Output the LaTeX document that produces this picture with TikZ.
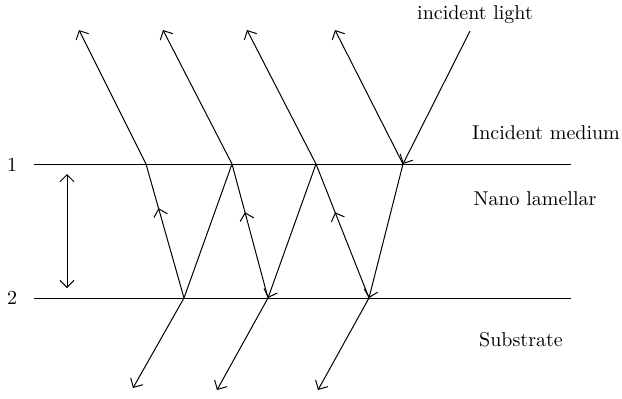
\documentclass[tikz,border=0pt]{standalone}
\usepackage{tikz}
\usetikzlibrary{arrows.meta, calc, decorations.markings}

\tikzset{
    ray/.style={line width=0.5pt},
    midarrow/.style={postaction={decorate},
        decoration={markings, mark=at position #1 with {\arrow{Straight Barb[length=3.5pt,width=7pt]}}}},
    lbl/.style={inner sep=0pt, font=\normalsize},
}

\begin{document}
\begin{tikzpicture}[x=0.5pt, y=-0.5pt, >={Straight Barb[length=3.5pt,width=7pt]}]
    \useasboundingbox (0,0) rectangle (622,398);

    % interfaces
    \coordinate (L1) at (34,164);
    \coordinate (R1) at (571,164);
    \coordinate (L2) at (34,298);
    \coordinate (R2) at (571,298);

    % points on the interfaces
    \coordinate (T1) at (146,164);
    \coordinate (T2) at (232,164);
    \coordinate (T3) at (316,164);
    \coordinate (T4) at (403,164);
    \coordinate (B1) at (184,298);
    \coordinate (B2) at (268,298);
    \coordinate (B3) at (369,298);

    % free ends of the rays
    \coordinate (I) at (470,31);
    \coordinate (R4) at (335,30);
    \coordinate (R3) at (247,30);
    \coordinate (R2up) at (163,30);
    \coordinate (R1up) at (79,30);
    \coordinate (S3) at (318,390);
    \coordinate (S2) at (217,390);
    \coordinate (S1) at (133,388);

    \coordinate (gapTop) at (67,174);
    \coordinate (gapBot) at (67,288);

    \draw[ray] (L1) -- (R1);
    \draw[ray] (L2) -- (R2);
    \node[lbl] (n1) at (12,165) {1};
    \node[lbl] (n2) at (12,298) {2};
    \draw[ray, <->] (gapTop) -- (gapBot);

    \draw[ray, ->] (I) -- (T4);
    \draw[ray, ->] (T4) -- (R4);
    \draw[ray, ->] (T4) -- (B3);
    \draw[ray, ->] (B3) -- (S3);
    \draw[ray, midarrow=0.64] (B3) -- (T3);
    \draw[ray, ->] (T3) -- (R3);
    \draw[ray, ->] (T3) -- (B2);
    \draw[ray, ->] (B2) -- (S2);
    \draw[ray, midarrow=0.64] (B2) -- (T2);
    \draw[ray, ->] (T2) -- (R2up);
    \draw[ray] (T2) -- (B1);
    \draw[ray, ->] (B1) -- (S1);
    \draw[ray, midarrow=0.67] (B1) -- (T1);
    \draw[ray, ->] (T1) -- (R1up);

    \node[lbl] (light) at (475,15) {incident light};
    \node[lbl] (medium) at (546,133) {Incident medium};
    \node[lbl] (lamellar) at (535,199) {Nano lamellar};
    \node[lbl] (substrate) at (521,340) {Substrate};
\end{tikzpicture}
\end{document}
